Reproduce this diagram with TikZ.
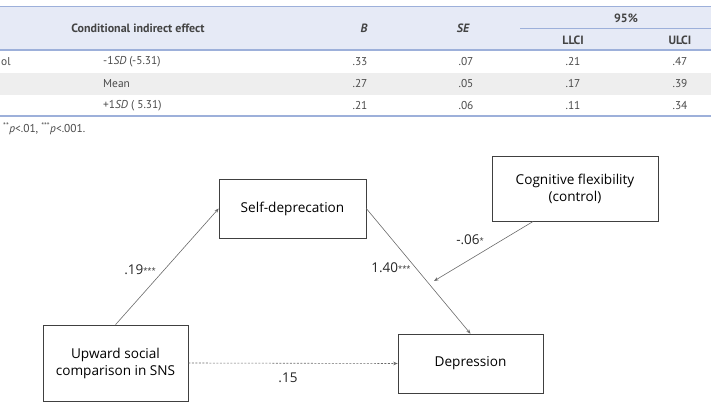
\documentclass[tikz,border=0pt]{standalone}
\usepackage{fontspec}
\setmainfont{Open Sans}
\newfontfamily\tabfont{PT Sans}
\usetikzlibrary{arrows.meta}
\definecolor{hdrbg}{HTML}{E6EAF6}
\definecolor{rule}{HTML}{9DB0DA}
\definecolor{rowbg}{HTML}{EEEEEE}
\definecolor{tabtxt}{HTML}{4A4A4A}
\definecolor{edge}{HTML}{6A6A6A}
\tikzset{
  tcell/.style={inner sep=0pt, font=\tabfont\fontsize{11.4}{13}\selectfont, text=tabtxt},
  thead/.style={inner sep=0pt, font=\tabfont\bfseries\fontsize{12}{13}\selectfont, text=tabtxt!90!black},
  vbox/.style={draw=black!75, line width=0.6pt, fill=white, align=center, inner sep=2pt,
    font=\fontsize{13.6}{17}\selectfont},
  path/.style={draw=edge, line width=0.6pt, -{Stealth[length=4.5pt,width=3.5pt]}},
  coef/.style={inner sep=0pt, font=\fontsize{13.5}{15}\selectfont, text=black!85},
}
\newcommand{\stars}[1]{\raisebox{1.5pt}{\fontsize{7.5}{7.5}\selectfont #1}}
\begin{document}
\begin{tikzpicture}[x=1pt,y=-1pt]
\useasboundingbox (0,0) rectangle (711,403);
% table
\fill[hdrbg] (0,6) rectangle (711,50);
\fill[rowbg] (0,73) rectangle (711,95);
\draw[rule, line width=0.8pt] (0,6) -- (711,6);
\draw[rule, line width=1.2pt] (0,50) -- (711,50);
\draw[rule, line width=0.8pt] (520,28) -- (711,28);
\draw[rule, line width=1.2pt] (0,116) -- (711,116);
\node[thead] (h1) at (138,28) {Conditional indirect effect};
\node[thead] (h2) at (364,28) {\itshape B};
\node[thead] (h3) at (463,28) {\itshape SE};
\node[thead] (h4) at (626,18) {95\%};
\node[thead] (h5) at (573,40) {LLCI};
\node[thead] (h6) at (680,40) {ULCI};
% rows
\node[tcell, anchor=west] (r1a) at (1,62) {ol};
\node[tcell, anchor=west] (r1b) at (103,62) {-1\textit{SD} (-5.31)};
\node[tcell] (r1c) at (360,62) {.33};
\node[tcell] (r1d) at (466,62) {.07};
\node[tcell] (r1e) at (573,62) {.21};
\node[tcell] (r1f) at (680,62) {.47};
\node[tcell, anchor=west] (r2b) at (103,84) {Mean};
\node[tcell] (r2c) at (360,84) {.27};
\node[tcell] (r2d) at (466,84) {.05};
\node[tcell] (r2e) at (573,84) {.17};
\node[tcell] (r2f) at (680,84) {.39};
\node[tcell, anchor=west] (r3b) at (103,106) {+1\textit{SD} ( 5.31)};
\node[tcell] (r3c) at (360,106) {.21};
\node[tcell] (r3d) at (466,106) {.06};
\node[tcell] (r3e) at (573,106) {.11};
\node[tcell] (r3f) at (680,106) {.34};
\node[tcell, anchor=west] (fn) at (3,129) {\textsuperscript{**}\textit{p}<.01, \textsuperscript{***}\textit{p}<.001.};
% diagram
\node[vbox, minimum width=147pt, minimum height=59pt] (self) at (292.5,208.5) {Self-deprecation};
\node[vbox, minimum width=166pt, minimum height=65pt] (cog) at (575,188.5) {Cognitive flexibility\\(control)};
\node[vbox, minimum width=145pt, minimum height=76pt] (up) at (115.5,363) {Upward social\\comparison in SNS};
\node[vbox, minimum width=145pt, minimum height=59pt] (dep) at (470.5,363.5) {Depression};
\coordinate (cs) at (533,221.5);
\coordinate (mod) at (434,281);
\draw[path] (up.north) -- (self.west);
\draw[path] (self.east) -- (dep.north);
\draw[path] (cs) -- (mod);
\draw[path, dashed, dash pattern=on 2pt off 1.5pt] (up.east) -- (dep.west);
\node[coef] (l1) at (140,270) {.19\stars{***}};
\node[coef] (l2) at (391,268) {1.40\stars{***}};
\node[coef] (l3) at (470,240) {-.06\stars{*}};
\node[coef] (l4) at (288,378) {.15};
\end{tikzpicture}
\end{document}
